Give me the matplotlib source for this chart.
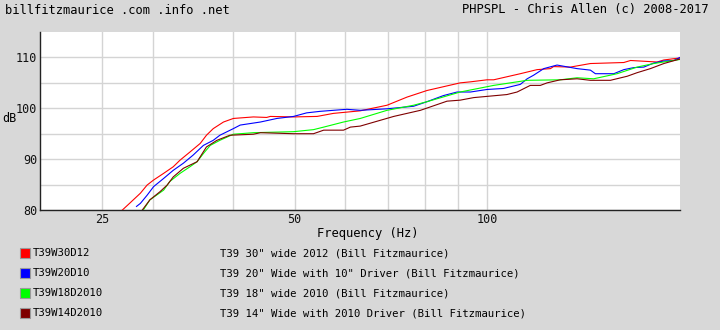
import matplotlib
matplotlib.use("Agg")
import matplotlib.pyplot as plt
from matplotlib.patches import Rectangle
from matplotlib.ticker import FixedLocator, NullFormatter, NullLocator

# ---- data ----
red_f = [26.9, 27.6, 28.7, 29.4, 30.1, 31.2, 32.3, 33.1, 34.3, 35.6, 36.4, 37.3, 38.7, 40.1,
         43.1, 45.2, 45.8, 49.8, 54.2, 57.5, 63.3, 69.7, 74.9, 80.5, 90.7, 94.1, 99.9, 102.3,
         112.6, 119.6, 125.5, 126.9, 134.8, 144.9, 163.4, 167.4, 184.2, 188.7, 200]
red_db = [80.0, 81.3, 83.3, 84.9, 85.9, 87.2, 88.5, 89.8, 91.4, 93.1, 94.7, 96.0, 97.3, 98.0,
          98.3, 98.2, 98.4, 98.3, 98.4, 99.0, 99.5, 100.6, 102.2, 103.5, 105.0, 105.2, 105.6, 105.6,
          106.8, 107.6, 107.8, 108.2, 108.1, 108.8, 109.0, 109.4, 109.1, 109.5, 109.9]

blue_f = [28.3, 28.7, 29.4, 30.1, 31.2, 32.3, 33.5, 34.7, 36.0, 37.3, 38.2, 40.1, 41.1, 44.2,
          46.9, 49.8, 52.2, 54.8, 60.3, 63.3, 69.7, 76.7, 80.5, 85.4, 89.7, 94.1, 99.9, 106.0,
          112.6, 115.4, 118.1, 122.5, 128.5, 138.1, 144.9, 147.5, 157.6, 163.4, 169.4, 175.6,
          182.0, 188.7, 195.6, 200]
blue_db = [80.7, 81.3, 82.9, 84.6, 86.2, 87.8, 89.2, 90.8, 92.7, 93.7, 94.7, 96.0, 96.7, 97.3,
           98.0, 98.4, 99.1, 99.4, 99.8, 99.6, 99.9, 100.4, 101.3, 102.5, 103.2, 103.2, 103.7, 103.9,
           104.7, 105.8, 106.5, 107.8, 108.5, 107.8, 107.5, 106.8, 106.8, 107.6, 108.0, 108.1,
           108.9, 109.3, 109.4, 110.0]

green_f = [29.0, 29.7, 30.4, 31.2, 31.9, 33.1, 34.3, 35.2, 36.0, 36.9, 38.2, 40.1, 43.1, 49.8,
           53.5, 55.5, 59.6, 63.3, 69.7, 76.7, 80.5, 90.7, 102.3, 115.4, 130.0, 138.1, 146.6,
           159.5, 171.4, 182.0, 200]
green_db = [80.0, 82.0, 82.9, 83.9, 85.6, 87.2, 88.5, 89.5, 91.1, 92.7, 93.7, 94.9, 95.2, 95.4,
            95.8, 96.3, 97.3, 98.0, 99.6, 100.6, 101.3, 103.2, 104.5, 105.5, 105.6, 106.0, 105.8,
            106.8, 108.1, 108.8, 109.6]

maroon_f = [28.9, 29.7, 30.8, 31.6, 32.3, 33.5, 35.2, 36.4, 37.8, 39.6, 43.1, 44.2, 49.8, 53.5,
            55.5, 59.6, 61.1, 63.3, 71.4, 78.6, 86.5, 90.7, 95.2, 107.3, 111.3, 116.7, 121.0,
            124.0, 130.0, 138.1, 144.9, 155.7, 165.4, 171.4, 179.8, 188.7, 200]
maroon_db = [80.0, 82.0, 83.6, 84.9, 86.5, 88.2, 89.5, 92.4, 93.7, 94.7, 94.9, 95.2, 95.0, 95.0,
             95.7, 95.7, 96.3, 96.5, 98.4, 99.6, 101.4, 101.6, 102.1, 102.7, 103.2, 104.5, 104.5,
             105.0, 105.6, 105.8, 105.5, 105.5, 106.3, 107.0, 107.8, 108.8, 109.7]

series_names = ["T39W30D12", "T39W20D10", "T39W18D2010", "T39W14D2010"]
series_desc = ['T39 30" wide 2012 (Bill Fitzmaurice)',
               'T39 20" Wide with 10" Driver (Bill Fitzmaurice)',
               'T39 18" wide 2010 (Bill Fitzmaurice)',
               'T39 14" Wide with 2010 Driver (Bill Fitzmaurice)']
series_colors = ["#ff0000", "#0000ff", "#00ff00", "#7f0000"]
series_f = [red_f, blue_f, green_f, maroon_f]
series_db = [red_db, blue_db, green_db, maroon_db]

x_major = [25, 50, 100]
x_grid = [25, 30, 40, 50, 60, 70, 80, 90, 100]
y_ticks = [80, 90, 100, 110]
y_grid = [80, 85, 90, 95, 100, 105, 110]

# ---- figure ----
plt.rcParams['font.family'] = ['DejaVu Sans Mono']
W, H = 720, 330
fig = plt.figure(figsize=(W / 100, H / 100), dpi=100)
fig.patch.set_facecolor("#d8d8d8")

ax = fig.add_axes([40 / W, 1 - 210 / H, 640 / W, 178 / H])
ax.set_facecolor("white")
ax.set_xscale("log")
ax.set_xlim(20, 200)
ax.set_ylim(80, 115)

for f, db, c in zip(series_f, series_db, series_colors):
    ax.plot(f, db, color=c, lw=0.8, zorder=3)

for g in x_grid:
    ax.axvline(g, color="#d4d4d4", lw=1.0, zorder=1)
for g in y_grid:
    ax.axhline(g, color="#d4d4d4", lw=1.0, zorder=1)

ax.xaxis.set_major_locator(FixedLocator(x_major))
ax.xaxis.set_minor_locator(NullLocator())
ax.xaxis.set_minor_formatter(NullFormatter())
ax.set_xticklabels([str(v) for v in x_major])
ax.set_yticks(y_ticks)
ax.set_yticklabels([str(v) for v in y_ticks])
ax.tick_params(axis="both", length=0, labelsize=8.5, colors="#111111", pad=2)

for s in ["top", "right"]:
    ax.spines[s].set_visible(False)
ax.spines["left"].set_color("#222222")
ax.spines["bottom"].set_color("#222222")
ax.spines["left"].set_linewidth(1.0)
ax.spines["bottom"].set_linewidth(1.0)

fig.text(368 / W, 1 - 234 / H, "Frequency (Hz)", fontsize=8.7, ha="center", va="center")
fig.text(2 / W, 1 - 119 / H, "dB", fontsize=8.5, ha="left", va="center")

fig.text(5 / W, 1 - 10 / H, "billfitzmaurice .com .info .net", fontsize=8.7,
         ha="left", va="center")
fig.text(708 / W, 1 - 10 / H, "PHPSPL - Chris Allen (c) 2008-2017", fontsize=8.7,
         ha="right", va="center")

row0 = 253
for i, (name, desc, c) in enumerate(zip(series_names, series_desc, series_colors)):
    yc = row0 + i * 20
    fig.add_artist(Rectangle((20 / W, 1 - (yc + 5) / H), 10 / W, 10 / H,
                             transform=fig.transFigure, facecolor=c,
                             edgecolor="#999999", lw=0.8))
    fig.text(33 / W, 1 - yc / H, name, fontsize=7.7, ha="left", va="center")
    fig.text(220 / W, 1 - yc / H, desc, fontsize=7.7, ha="left", va="center")

fig.savefig("out.png", dpi=100, facecolor=fig.get_facecolor())
